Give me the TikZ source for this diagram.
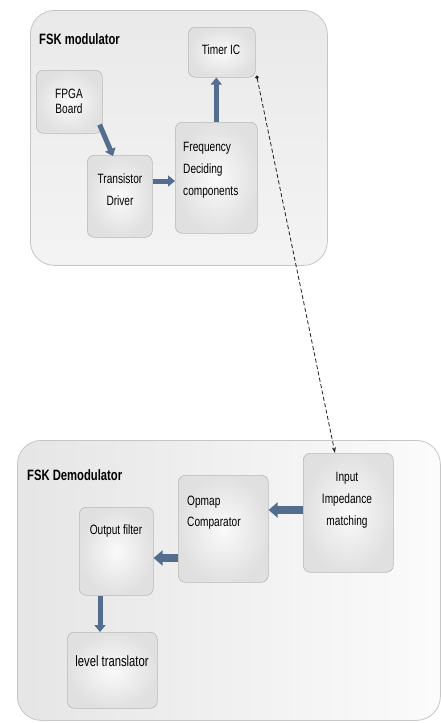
\documentclass[tikz,border=0pt]{standalone}
\usepackage{fontspec}
\setmainfont{Liberation Sans}[FakeStretch=0.75]
\usetikzlibrary{arrows.meta,calc}
\definecolor{arrowc}{RGB}{84,108,142}
\begin{document}
\begin{tikzpicture}[x=1pt,y=-1pt]
\tikzset{
 cont/.style={draw=gray!45, line width=0.8pt, rounded corners=24pt, anchor=north west, inner sep=0pt},
 blk/.style={draw=gray!55, line width=0.6pt, rounded corners=7pt, anchor=north west, inner sep=0pt, inner color=gray!4, outer color=gray!24},
 txt/.style={font=\fontsize{13.5}{22}\selectfont, inner sep=0pt, align=center},
 ttl/.style={font=\bfseries\fontsize{15}{18}\selectfont, anchor=west, inner sep=0pt},
 fatsmall/.style={draw=arrowc, line width=5pt, -{Triangle[length=7pt,width=11pt]}},
 fatbig/.style={draw=arrowc, line width=8pt, -{Triangle[length=9pt,width=15pt]}},
 link/.style={draw=gray!25!black, dash pattern=on 4pt off 2.5pt, line width=0.8pt, {Circle[length=3.5pt]}-{Stealth[length=6pt,width=4pt]}}
}
\useasboundingbox (0,0) rectangle (441,723);
\fill[white] (0,0) rectangle (441,723);

% containers
\node (mod) [cont, minimum width=297pt, minimum height=255pt, top color=gray!17, bottom color=gray!9] at (30,10) {};
\node (dem) [cont, minimum width=423pt, minimum height=280pt, left color=gray!20, right color=gray!3] at (17,440) {};
\node (modt) [ttl] at (39,39) {FSK modulator};
\node (demt) [ttl] at (27,475) {FSK Demodulator};

% modulator blocks
\node (timer) [blk, minimum width=67pt, minimum height=50pt] at (188,27) {};
\node (fpga)  [blk, minimum width=66pt, minimum height=63pt] at (36,70) {};
\node (drv)   [blk, minimum width=65pt, minimum height=82pt] at (87,155) {};
\node (freq)  [blk, minimum width=82pt, minimum height=111pt] at (175,122) {};

\node (timert) [txt] at (221,50) {Timer IC};
\node (fpgat)  [txt, font=\fontsize{13.5}{15}\selectfont] at (69,101) {FPGA\\Board};
\node (drvt)   [txt] at (120,190) {Transistor\\Driver};
\node (freqt)  [txt, align=left, anchor=west] at (183,170) {Frequency\\Deciding\\components};

% demodulator blocks
\node (inp)   [blk, minimum width=90pt, minimum height=119pt] at (303,453) {};
\node (opamp) [blk, minimum width=90pt, minimum height=107pt] at (178,475) {};
\node (outf)  [blk, minimum width=74pt, minimum height=88pt] at (79,507) {};
\node (lvl)   [blk, minimum width=90pt, minimum height=76pt] at (67,632) {};

\node (inpt)   [txt] at (347,500) {Input\\Impedance\\matching};
\node (opampt) [txt, align=left, anchor=west, font=\fontsize{13.5}{21}\selectfont] at (187,513) {Opmap\\Comparator};
\node (outft)  [txt] at (116,531) {Output filter};
\node (lvlt)   [txt, font=\fontsize{15}{18}\selectfont] at (112,661) {level translator};

% arrows
\draw[fatsmall] ($(fpga.south east)+(-3,-9)$) -- ($(drv.north west)+(26,1)$);
\draw[fatsmall] ($(drv.north east)+(0,26)$) -- ($(freq.north west)+(0,59)$);
\draw[fatsmall] (freq.north) -- (freq.north |- timer.south);
\draw[fatbig] ($(inp.north west)+(0,57)$) -- ($(opamp.north east)+(0,35)$);
\draw[fatbig] ($(opamp.north west)+(0,83)$) -- ($(outf.north east)+(0,51)$);
\draw[fatsmall] ($(outf.south west)+(21,0)$) -- ($(lvl.north west)+(33,0)$);

\draw[link] ($(timer.south east)+(1,-2)$) -- ($(inp.north west)+(32,0)$);
\end{tikzpicture}
\end{document}
